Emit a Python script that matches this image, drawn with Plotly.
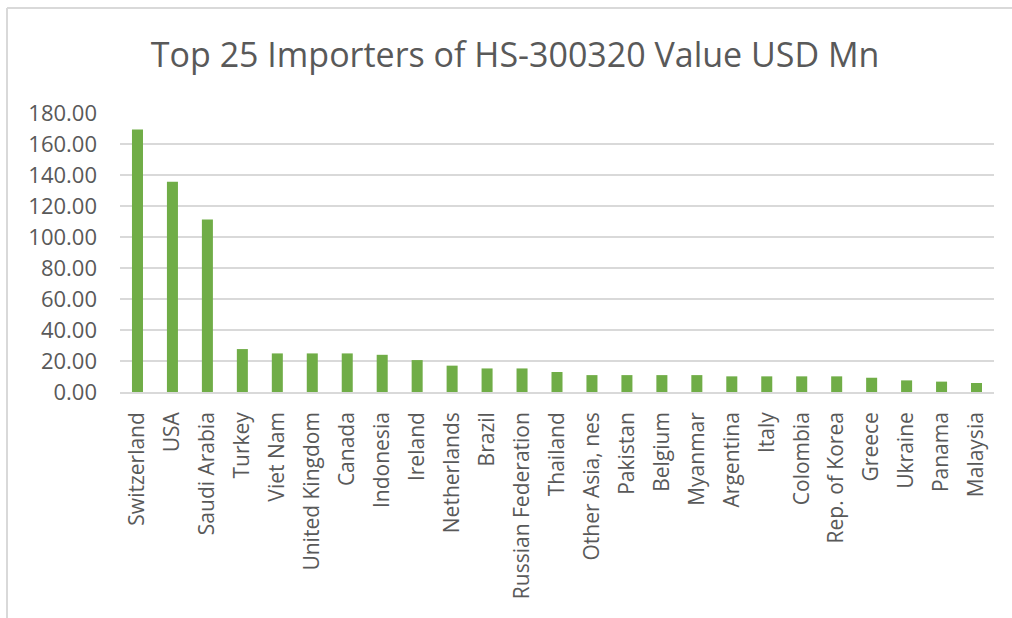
import plotly.graph_objects as go

countries = [
    "Switzerland", "USA", "Saudi Arabia", "Turkey", "Viet Nam",
    "United Kingdom", "Canada", "Indonesia", "Ireland", "Netherlands",
    "Brazil", "Russian Federation", "Thailand", "Other Asia, nes", "Pakistan",
    "Belgium", "Myanmar", "Argentina", "Italy", "Colombia",
    "Rep. of Korea", "Greece", "Ukraine", "Panama", "Malaysia",
]
import_value_usd_mn = [
    169.4, 135.7, 111.3, 27.7, 24.9,
    24.9, 24.9, 24.0, 20.6, 17.0,
    15.2, 15.2, 12.9, 10.9, 10.9,
    10.9, 10.9, 10.1, 10.1, 10.1,
    10.1, 9.2, 7.5, 6.7, 5.8,
]
y_ticks = [0, 20, 40, 60, 80, 100, 120, 140, 160, 180]

W, H = 1012, 618
L, R, T, B = 120, 18, 113, 226
pw, ph = W - L - R, H - T - B

def px_x(x):
    return (x - L) / pw

def px_y(y):
    return (H - B - y) / ph

text_color = "#595959"
grid_color = "#d9d9d9"

fig = go.Figure(
    go.Bar(
        x=countries,
        y=import_value_usd_mn,
        marker=dict(color="#70ad47", line=dict(width=0)),
    )
)

fig.update_layout(
    width=W,
    height=H,
    margin=dict(l=L, r=R, t=T, b=B, pad=0),
    paper_bgcolor="white",
    plot_bgcolor="white",
    bargap=0.685,
    showlegend=False,
    font=dict(family="Open Sans", color=text_color),
    title=dict(
        text="Top 25 Importers of HS-300320 Value USD Mn",
        font=dict(family="Open Sans", size=34, color=text_color),
        x=0.509,
        xanchor="center",
        xref="container",
        y=1 - 55 / H,
        yanchor="middle",
    ),
    shapes=[
        dict(type="line", xref="paper", yref="paper",
             x0=px_x(7), x1=px_x(W + 5), y0=px_y(8), y1=px_y(8),
             line=dict(color=grid_color, width=2)),
        dict(type="line", xref="paper", yref="paper",
             x0=px_x(7), x1=px_x(7), y0=px_y(8), y1=px_y(H + 5),
             line=dict(color=grid_color, width=2)),
    ],
)

fig.update_xaxes(
    tickangle=-90,
    tickfont=dict(family="Open Sans", size=21, color=text_color),
    showgrid=False,
    showline=True,
    linecolor=grid_color,
    linewidth=1.5,
    ticks="",
    ticklabelstandoff=10,
)

fig.update_yaxes(
    range=[0, 180],
    tickvals=y_ticks,
    tickformat=".2f",
    tickfont=dict(family="Open Sans", size=22, color=text_color),
    showgrid=True,
    gridcolor=grid_color,
    gridwidth=1.5,
    zeroline=False,
    showline=False,
    ticks="",
    ticklabelstandoff=22,
)

fig.write_html("out.html")
